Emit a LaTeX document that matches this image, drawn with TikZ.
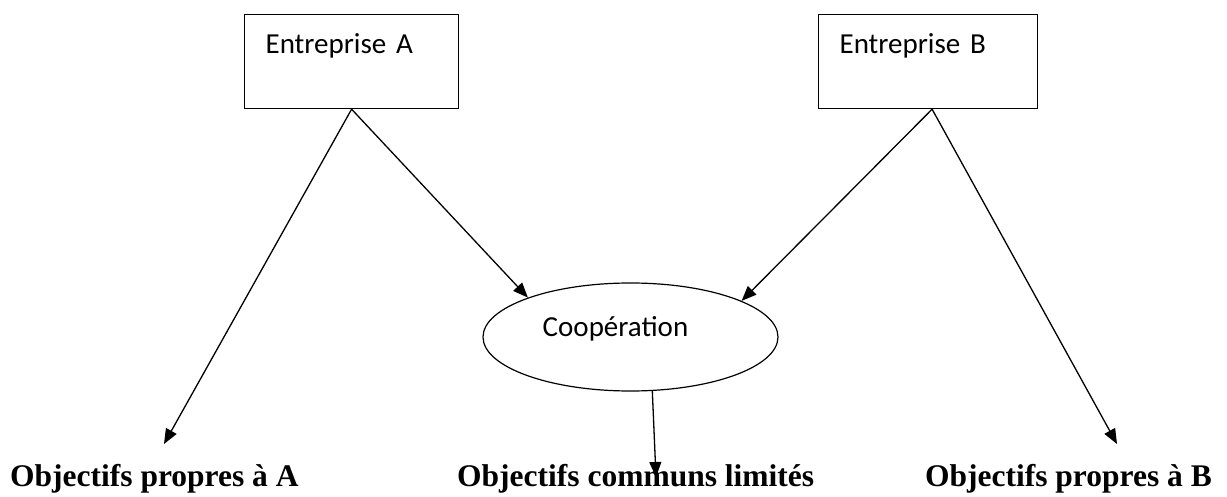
\documentclass[tikz,border=0pt]{standalone}
\usepackage{fontspec}
\setmainfont{Liberation Serif}
\newfontfamily\calib{Carlito}
\usetikzlibrary{shapes.geometric,arrows.meta}

\begin{document}
\begin{tikzpicture}[x=1pt, y=-1pt, >={Triangle[length=15pt,width=12pt]},
    entbox/.style={draw, line width=1.2pt, anchor=north west, inner xsep=21pt, inner ysep=0pt,
        align=left, text height=39pt, text depth=55pt, font=\calib\fontsize{29}{34}\selectfont},
    coopell/.style={ellipse, draw, line width=1.2pt, minimum width=295pt, minimum height=108pt,
        inner sep=0pt, text height=20pt, text depth=20pt, font=\calib\fontsize{29}{34}\selectfont},
    objlbl/.style={inner sep=0pt, font=\bfseries\fontsize{31.5}{36}\selectfont},
    fleche/.style={->, line width=1.3pt}]
    \useasboundingbox (0,0) rectangle (1227,497);

    \node[entbox, text width=172pt] (entA) at (244,14) {Entreprise A};
    \node[entbox, text width=177pt] (entB) at (818,14) {Entreprise B};
    \node[coopell] (coop) at (630.5,337) {Coopération\hspace*{30pt}};

    \node[objlbl, anchor=base west] (objA) at (10,486) {Objectifs propres à A};
    \node[objlbl, anchor=base west] (objC) at (457,486) {Objectifs communs limités};
    \node[objlbl, anchor=base east] (objB) at (1212,486) {Objectifs propres à B};

    \coordinate (tipA) at (164,444);
    \coordinate (tipB) at (1117,444);
    \coordinate (tipC) at (656,477);

    \draw[fleche] (entA.south) -- (tipA);
    \draw[fleche] (entA.south) -- (coop.159);
    \draw[fleche] ([xshift=4pt]entB.south) -- (coop.18);
    \draw[fleche] ([xshift=4pt]entB.south) -- (tipB);
    \draw[fleche] (coop.-68) -- (tipC);
\end{tikzpicture}
\end{document}
